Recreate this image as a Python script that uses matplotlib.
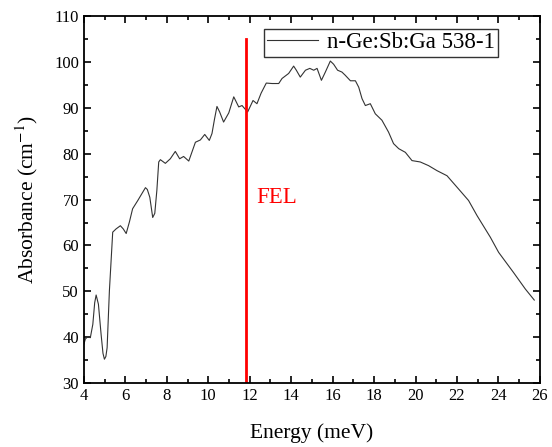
import matplotlib
matplotlib.use("Agg")
import matplotlib.pyplot as plt
from matplotlib.ticker import MultipleLocator

# values
energy = [4.0, 4.07, 4.18, 4.31, 4.43, 4.52, 4.59, 4.70, 4.83, 4.92, 4.99, 5.06, 5.12,
          5.23, 5.39, 5.55, 5.76, 5.90, 6.04, 6.20, 6.35, 6.60, 6.89, 6.97, 7.06,
          7.18, 7.32, 7.42, 7.52, 7.61, 7.69, 7.93, 8.17, 8.41, 8.62, 8.81, 9.06,
          9.38, 9.62, 9.83, 10.05, 10.18, 10.30, 10.42, 10.55, 10.74, 10.99, 11.23,
          11.47, 11.63, 11.90, 12.16, 12.35, 12.55, 12.80, 13.08, 13.40, 13.56,
          13.88, 14.12, 14.25, 14.44, 14.69, 14.90, 15.09, 15.25, 15.46, 15.65,
          15.89, 16.05, 16.24, 16.45, 16.61, 16.86, 17.10, 17.26, 17.42, 17.58,
          17.82, 18.06, 18.38, 18.70, 18.94, 19.19, 19.51, 19.83, 20.23, 20.63,
          21.04, 21.52, 22.08, 22.56, 22.97, 23.61, 24.01, 24.73, 25.30, 25.73]
absorbance = [38.5, 39.6, 40.1, 39.9, 42.8, 47.5, 49.2, 47.2, 40.6, 36.5, 35.2, 35.8, 37.7,
              50.1, 62.9, 63.6, 64.3, 63.6, 62.6, 65.2, 68.0, 69.8, 72.0, 72.6, 72.2,
              70.5, 66.1, 67.0, 72.0, 78.2, 78.7, 77.9, 78.9, 80.5, 78.9, 79.4, 78.4,
              82.5, 83.0, 84.2, 82.9, 84.4, 87.5, 90.3, 89.1, 86.9, 88.9, 92.4,
              90.2, 90.5, 89.1, 91.6, 90.9, 93.2, 95.4, 95.3, 95.3, 96.4,
              97.5, 99.1, 98.2, 96.7, 98.2, 98.6, 98.2, 98.6, 96.0, 97.8,
              100.2, 99.5, 98.2, 97.8, 97.1, 95.9, 95.9, 94.5, 92.0, 90.5,
              90.9, 88.7, 87.3, 84.7, 82.2, 81.1, 80.3, 78.5, 78.2, 77.4,
              76.3, 75.2, 72.3, 69.8, 66.5, 61.8, 58.5, 54.1, 50.5, 48.1]

fel_energy = 11.8

plt.rcParams['font.family'] = ['Liberation Serif', 'DejaVu Serif']
plt.rcParams['mathtext.fontset'] = 'stix'

fig = plt.figure(figsize=(5.52, 4.47), dpi=100)
ax = fig.add_axes([0.152, 0.143, 0.826, 0.821])

ax.plot(energy, absorbance, color='#333333', lw=0.8, label='n-Ge:Sb:Ga 538-1')
ax.plot([fel_energy, fel_energy], [30, 105], color='red', lw=2)
ax.text(fel_energy + 0.5, 70.4, 'FEL', color='red', fontsize=16.5, va='center')

ax.set_xlim(4, 26)
ax.set_ylim(30, 110)
ax.xaxis.set_major_locator(MultipleLocator(2))
ax.xaxis.set_minor_locator(MultipleLocator(1))
ax.yaxis.set_major_locator(MultipleLocator(10))
ax.yaxis.set_minor_locator(MultipleLocator(5))
ax.tick_params(which='both', direction='in', top=True, right=True, labelsize=12, width=1.2)
ax.tick_params(which='major', length=5)
ax.tick_params(which='minor', length=3)
for s in ax.spines.values():
    s.set_linewidth(1.3)

ax.set_xlabel('Energy (meV)', fontsize=15.5, labelpad=14)
ax.set_ylabel('Absorbance (cm$^{-1}$)', fontsize=15.5, labelpad=10)

leg = ax.legend(loc='upper left', bbox_to_anchor=(0.395, 0.965), fontsize=16.5,
                frameon=True, fancybox=False, edgecolor='black',
                handlelength=2.2, borderpad=0.15, handletextpad=0.4, borderaxespad=0)
leg.get_frame().set_linewidth(1.0)

fig.savefig('out.png', dpi=100)
